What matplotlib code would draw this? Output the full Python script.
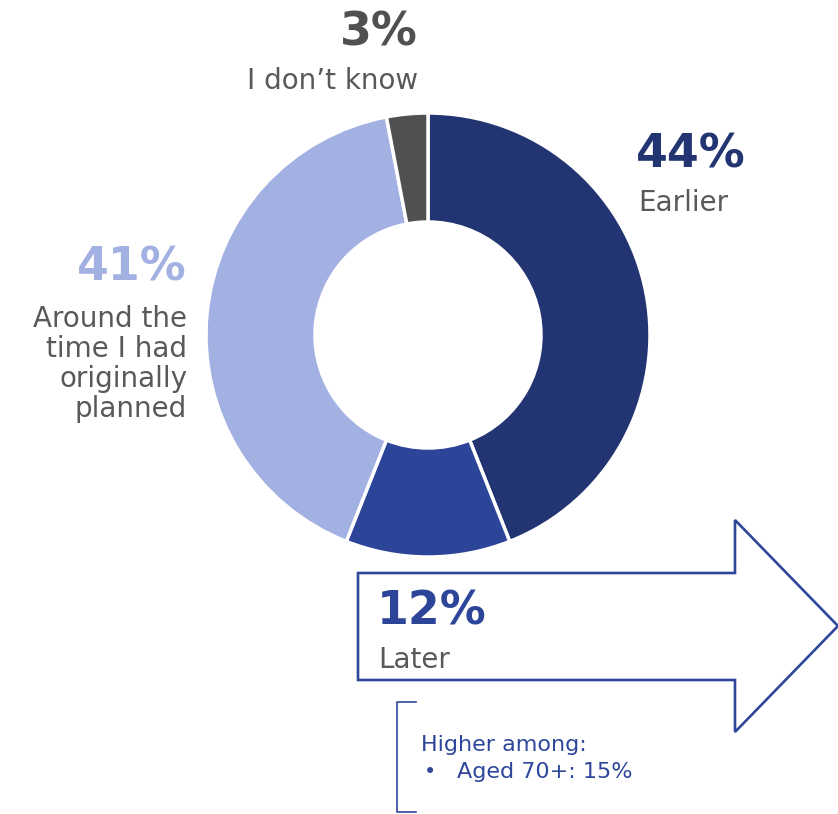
import matplotlib.pyplot as plt
from matplotlib.patches import Polygon

# donut data (clockwise from top)
labels = ["Earlier", "Later", "Around the\ntime I had\noriginally\nplanned", "I don\u2019t know"]
values = [44, 12, 41, 3]
colors = ["#233472", "#2D4599", "#A3B0E2", "#505050"]
note_title = "Higher among:"
note_items = ["Aged 70+: 15%"]

W, H = 838, 814
GREY = "#595959"
FONT = "DejaVu Sans"

fig = plt.figure(figsize=(W / 100, H / 100), dpi=100)
ax = fig.add_axes([0, 0, 1, 1])

def py(y):
    # pixel row (from top) -> data y
    return H - y

# donut
ax.pie(values, colors=colors, startangle=90, counterclock=False,
       center=(428, py(335)), radius=222,
       wedgeprops=dict(width=109, edgecolor="white", linewidth=2.5))

ax.set_xlim(0, W)
ax.set_ylim(0, H)
ax.set_aspect("auto")
ax.axis("off")

# arrow outline
arrow = [(358, 573), (735, 573), (735, 520), (838, 626), (735, 732), (735, 680), (358, 680)]
ax.add_patch(Polygon([(x, py(y)) for x, y in arrow], closed=True, fill=False,
                     edgecolor="#2E479B", linewidth=1.9, clip_on=False))

pct_size = 33
lab_size = 20

# Earlier
ax.text(636, py(155), f"{values[0]}%", color=colors[0], fontsize=pct_size, fontweight="bold",
        ha="left", va="center", family=FONT)
ax.text(638, py(203), labels[0], color=GREY, fontsize=lab_size, ha="left", va="center", family=FONT)

# Later
ax.text(377, py(612), f"{values[1]}%", color=colors[1], fontsize=pct_size, fontweight="bold",
        ha="left", va="center", family=FONT)
ax.text(378, py(660), labels[1], color=GREY, fontsize=lab_size, ha="left", va="center", family=FONT)

# Around the time
ax.text(187, py(268), f"{values[2]}%", color=colors[2], fontsize=pct_size, fontweight="bold",
        ha="right", va="center", family=FONT)
ax.text(187, py(364), labels[2], color=GREY, fontsize=lab_size, ha="right", va="center",
        linespacing=1.09, family=FONT)

# I don't know
ax.text(418, py(33), f"{values[3]}%", color=colors[3], fontsize=pct_size, fontweight="bold",
        ha="right", va="center", family=FONT)
ax.text(418, py(81), labels[3], color=GREY, fontsize=lab_size, ha="right", va="center", family=FONT)

# bracket + note
bx = [416, 397, 397, 416]
by = [py(702), py(702), py(812), py(812)]
ax.plot(bx, by, color="#2E479B", linewidth=1.2)
ax.text(421, py(745), note_title, color="#2E479B", fontsize=16, ha="left", va="center", family=FONT)
for i, item in enumerate(note_items):
    yy = py(772 + i * 27)
    ax.text(424, yy, "\u2022", color="#2E479B", fontsize=15, ha="left", va="center", family=FONT)
    ax.text(457, yy, item, color="#2E479B", fontsize=16, ha="left", va="center", family=FONT)

fig.savefig("out.png", dpi=100)
